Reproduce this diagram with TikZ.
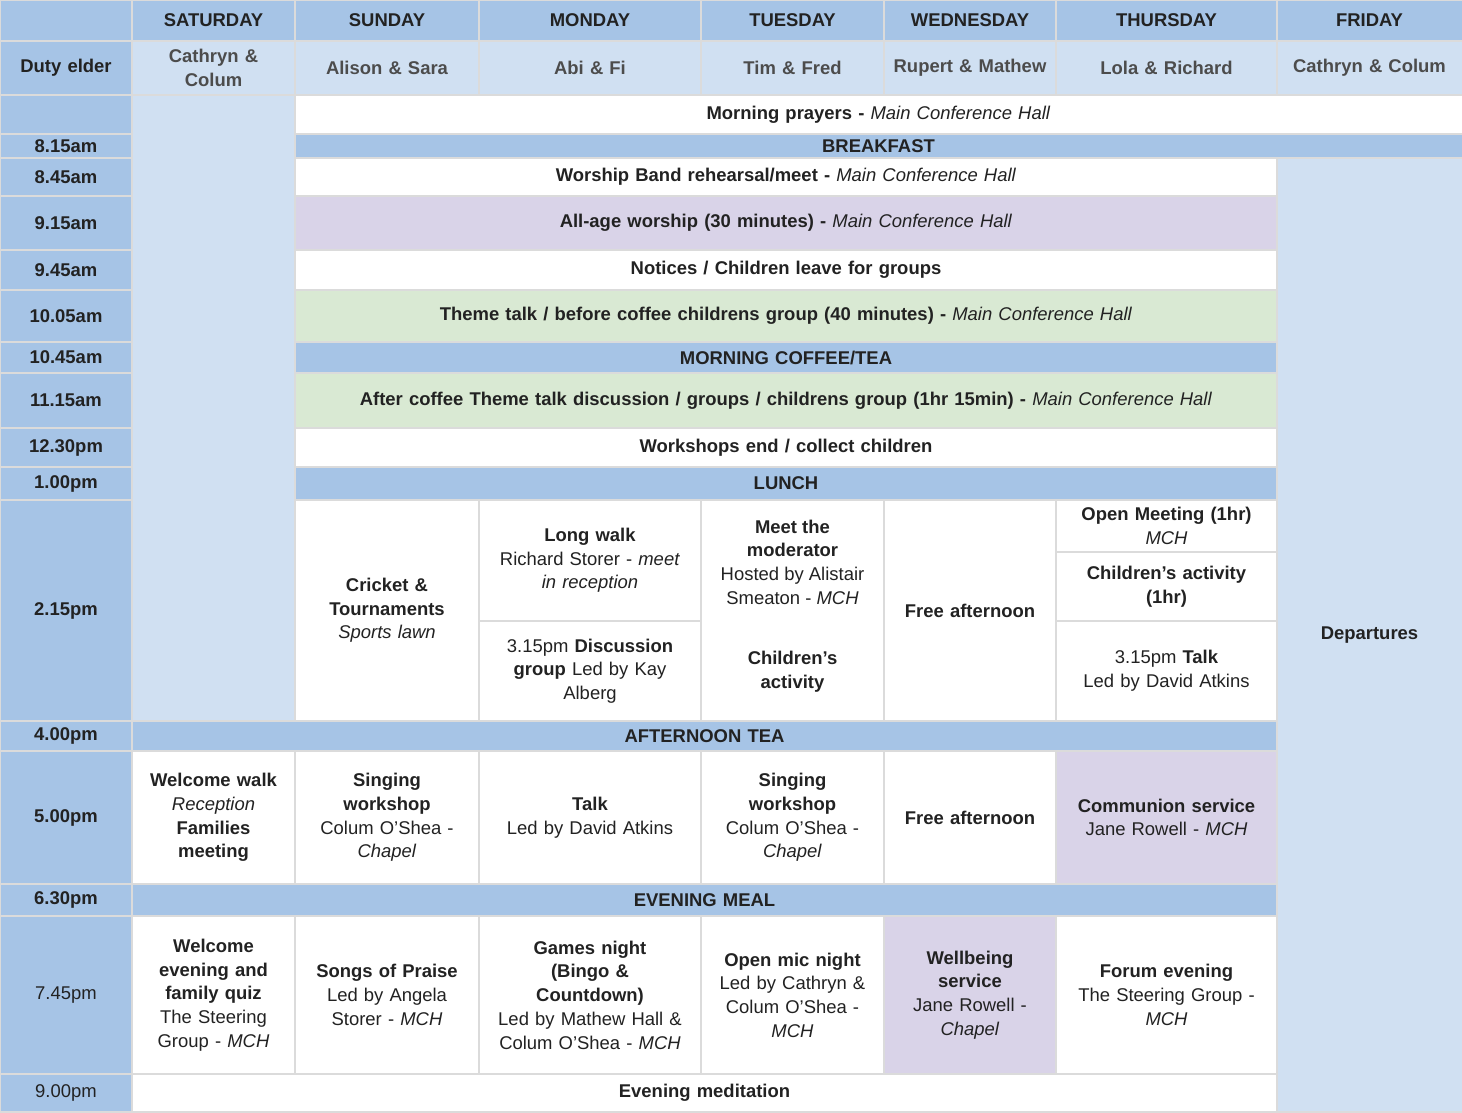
\documentclass[tikz,border=0pt]{standalone}
\usepackage{fontspec}
\setmainfont{Liberation Sans}
\definecolor{headblue}{HTML}{A6C4E6}
\definecolor{lightblue}{HTML}{D0E0F2}
\definecolor{lilac}{HTML}{D9D3E8}
\definecolor{sage}{HTML}{D9E9D3}
\definecolor{ink}{HTML}{222222}
\tikzset{
  cellbox/.style={draw=black!14, line width=0.6pt},
  celltext/.style={align=center, text=ink, inner sep=0pt, font=\fontsize{10.5}{13.5}\selectfont}
}
% one table cell: name, x1, y1, x2, y2, fill, text (pixels of the sheet)
\newcommand{\cell}[7]{%
  \pgfmathsetmacro\cw{max((#4-#2)*0.02-0.3,0.5)}%
  \path[cellbox, fill=#6] (#2,#3) rectangle (#4,#5);
  \node[celltext, text width=\cw cm] (#1) at ({(#2+#4)/2},{(#3+#5)/2}) {#7};}
\begin{document}
\begin{tikzpicture}[x=0.02cm, y=-0.02cm]
  \useasboundingbox (0,0) rectangle (1462,1112);

  % Day headers
  \cell{hd0}{0}{0}{132}{41}{headblue}{}
  \cell{sat}{132}{0}{295}{41}{headblue}{\textbf{SATURDAY}}
  \cell{sun}{295}{0}{479}{41}{headblue}{\textbf{SUNDAY}}
  \cell{mon}{479}{0}{701}{41}{headblue}{\textbf{MONDAY}}
  \cell{tue}{701}{0}{884}{41}{headblue}{\textbf{TUESDAY}}
  \cell{wed}{884}{0}{1056}{41}{headblue}{\textbf{WEDNESDAY}}
  \cell{thu}{1056}{0}{1277}{41}{headblue}{\textbf{THURSDAY}}
  \cell{fri}{1277}{0}{1462}{41}{headblue}{\textbf{FRIDAY}}

  % Duty elders
  \cell{duty}{0}{41}{132}{95}{headblue}{\textbf{Duty elder}}
  \cell{dsat}{132}{41}{295}{95}{lightblue}{\textbf{\color{black!70}Cathryn \&\\Colum}}
  \cell{dsun}{295}{41}{479}{95}{lightblue}{\textbf{\color{black!70}Alison \& Sara}}
  \cell{dmon}{479}{41}{701}{95}{lightblue}{\textbf{\color{black!70}Abi \& Fi}}
  \cell{dtue}{701}{41}{884}{95}{lightblue}{\textbf{\color{black!70}Tim \& Fred}}
  \cell{dwed}{884}{41}{1056}{95}{lightblue}{\textbf{\color{black!70}Rupert \& Mathew}}
  \cell{dthu}{1056}{41}{1277}{95}{lightblue}{\textbf{\color{black!70}Lola \& Richard}}
  \cell{dfri}{1277}{41}{1462}{95}{lightblue}{\textbf{\color{black!70}Cathryn \& Colum}}

  % Times
  \foreach \ya/\yb/\t [count=\i] in {95/134/{}, 134/158/8.15am, 158/196/8.45am,
      196/250/9.15am, 250/290/9.45am, 290/342/10.05am, 342/373/10.45am,
      373/428/11.15am, 428/467/12.30pm, 467/500/1.00pm, 500/721/2.15pm,
      721/751/4.00pm, 751/884/5.00pm, 884/916/6.30pm}
    {\cell{t\i}{0}{\ya}{132}{\yb}{headblue}{\textbf{\t}}}
  \cell{t15}{0}{916}{132}{1074}{headblue}{7.45pm}
  \cell{t16}{0}{1074}{132}{1112}{headblue}{9.00pm}

  % Side columns
  \cell{satam}{132}{95}{295}{721}{lightblue}{}
  \cell{depart}{1277}{158}{1462}{1112}{lightblue}{\textbf{Departures}}

  % Morning
  \cell{prayers}{295}{95}{1462}{134}{white}{\textbf{Morning prayers -} \textit{Main Conference Hall}}
  \cell{breakfast}{295}{134}{1462}{158}{headblue}{\textbf{BREAKFAST}}
  \cell{band}{295}{158}{1277}{196}{white}{\textbf{Worship Band rehearsal/meet -} \textit{Main Conference Hall}}
  \cell{worship}{295}{196}{1277}{250}{lilac}{\textbf{All-age worship (30 minutes) -} \textit{Main Conference Hall}}
  \cell{notices}{295}{250}{1277}{290}{white}{\textbf{Notices / Children leave for groups}}
  \cell{theme}{295}{290}{1277}{342}{sage}{\textbf{Theme talk / before coffee childrens group (40 minutes) -} \textit{Main Conference Hall}}
  \cell{coffee}{295}{342}{1277}{373}{headblue}{\textbf{MORNING COFFEE/TEA}}
  \cell{discuss}{295}{373}{1277}{428}{sage}{\textbf{After coffee Theme talk discussion / groups / childrens group (1hr 15min) -} \textit{Main Conference Hall}}
  \cell{wsend}{295}{428}{1277}{467}{white}{\textbf{Workshops end / collect children}}
  \cell{lunch}{295}{467}{1277}{500}{headblue}{\textbf{LUNCH}}

  % Afternoon
  \cell{cricket}{295}{500}{479}{721}{white}{\textbf{Cricket \&}\\\textbf{Tournaments}\\\textit{Sports lawn}}
  \cell{walk}{479}{500}{701}{621}{white}{\textbf{Long walk}\\Richard Storer - \textit{meet}\\\textit{in reception}}
  \cell{group}{479}{621}{701}{721}{white}{3.15pm \textbf{Discussion}\\\textbf{group} Led by Kay\\Alberg}
  \cell{tuepm}{701}{500}{884}{721}{white}{}
  \node[celltext] (moder) at (792.5,562) {\textbf{Meet the}\\\textbf{moderator}\\Hosted by Alistair\\Smeaton - \textit{MCH}};
  \node[celltext] (childact) at (792.5,672) {\textbf{Children's}\\\textbf{activity}};
  \cell{freepm}{884}{500}{1056}{721}{white}{\textbf{Free afternoon}}
  \cell{open}{1056}{500}{1277}{552}{white}{\textbf{Open Meeting (1hr)}\\\textit{MCH}}
  \cell{kids}{1056}{552}{1277}{621}{white}{\textbf{Children's activity}\\\textbf{(1hr)}}
  \cell{talk}{1056}{621}{1277}{721}{white}{3.15pm \textbf{Talk}\\Led by David Atkins}
  \cell{tea}{132}{721}{1277}{751}{headblue}{\textbf{AFTERNOON TEA}}

  % Late afternoon
  \cell{welwalk}{132}{751}{295}{884}{white}{\textbf{Welcome walk}\\\textit{Reception}\\\textbf{Families}\\\textbf{meeting}}
  \cell{sing}{295}{751}{479}{884}{white}{\textbf{Singing}\\\textbf{workshop}\\Colum O'Shea -\\\textit{Chapel}}
  \cell{montalk}{479}{751}{701}{884}{white}{\textbf{Talk}\\Led by David Atkins}
  \cell{singb}{701}{751}{884}{884}{white}{\textbf{Singing}\\\textbf{workshop}\\Colum O'Shea -\\\textit{Chapel}}
  \cell{freeb}{884}{751}{1056}{884}{white}{\textbf{Free afternoon}}
  \cell{commun}{1056}{751}{1277}{884}{lilac}{\textbf{Communion service}\\Jane Rowell - \textit{MCH}}
  \cell{meal}{132}{884}{1277}{916}{headblue}{\textbf{EVENING MEAL}}

  % Evening
  \cell{quiz}{132}{916}{295}{1074}{white}{\textbf{Welcome}\\\textbf{evening and}\\\textbf{family quiz}\\The Steering\\Group - \textit{MCH}}
  \cell{songs}{295}{916}{479}{1074}{white}{\textbf{Songs of Praise}\\Led by Angela\\Storer - \textit{MCH}}
  \cell{games}{479}{916}{701}{1074}{white}{\textbf{Games night}\\\textbf{(Bingo \&}\\\textbf{Countdown)}\\Led by Mathew Hall \&\\Colum O'Shea - \textit{MCH}}
  \cell{openmic}{701}{916}{884}{1074}{white}{\textbf{Open mic night}\\Led by Cathryn \&\\Colum O'Shea -\\\textit{MCH}}
  \cell{wellb}{884}{916}{1056}{1074}{lilac}{\textbf{Wellbeing}\\\textbf{service}\\Jane Rowell -\\\textit{Chapel}}
  \cell{forum}{1056}{916}{1277}{1074}{white}{\textbf{Forum evening}\\The Steering Group -\\\textit{MCH}}
  \cell{medit}{132}{1074}{1277}{1112}{white}{\textbf{Evening meditation}}
\end{tikzpicture}
\end{document}
